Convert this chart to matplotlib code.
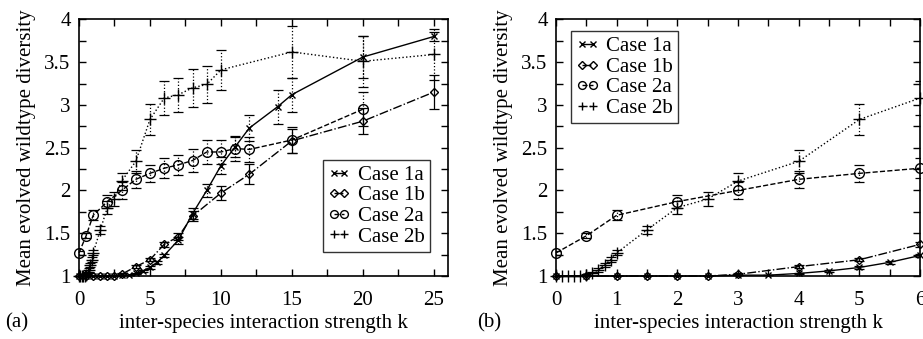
import matplotlib
matplotlib.use('Agg')
import matplotlib.pyplot as plt
from matplotlib.ticker import MultipleLocator

plt.rcParams['font.family'] = ['Liberation Serif', 'DejaVu Serif']
plt.rcParams['font.size'] = 15

# Case 1a: crosses, solid line
k_1a = [0, 0.5, 1, 1.5, 2, 2.5, 3, 3.5, 4, 4.5, 5, 5.5, 6, 7, 8, 9, 10, 11, 12, 14, 15, 20, 25]
v_1a = [1.0, 1.0, 1.0, 1.0, 1.0, 1.0, 1.01, 1.01, 1.03, 1.06, 1.10, 1.16, 1.24, 1.42, 1.73, 2.0,
        2.29, 2.51, 2.73, 2.98, 3.12, 3.56, 3.80]
e_1a = [0, 0, 0, 0, 0, 0, 0, 0, 0.01, 0.01, 0.02, 0.02, 0.02, 0.04, 0.06, 0.08,
        0.1, 0.12, 0.15, 0.2, 0.2, 0.25, 0.05]

# Case 1b: diamonds, dash-dot line
k_1b = [0, 0.5, 1, 1.5, 2, 2.5, 3, 4, 5, 6, 7, 8, 10, 12, 15, 20, 25]
v_1b = [1.0, 1.0, 1.0, 1.0, 1.0, 1.0, 1.02, 1.11, 1.19, 1.37, 1.46, 1.70, 1.97, 2.19, 2.58, 2.81, 3.15]
e_1b = [0, 0, 0, 0, 0, 0, 0.01, 0.02, 0.02, 0.03, 0.04, 0.06, 0.08, 0.12, 0.14, 0.15, 0.2]

# Case 2a: circles, dashed line
k_2a = [0, 0.5, 1, 2, 3, 4, 5, 6, 7, 8, 9, 10, 11, 12, 15, 20]
v_2a = [1.27, 1.47, 1.71, 1.87, 2.0, 2.13, 2.20, 2.26, 2.30, 2.35, 2.45, 2.45, 2.49, 2.48, 2.59, 2.95]
e_2a = [0.02, 0.03, 0.06, 0.08, 0.1, 0.1, 0.1, 0.12, 0.12, 0.13, 0.14, 0.14, 0.15, 0.15, 0.15, 0.2]

# Case 2b: plus signs, dotted line
k_2b = [0, 0.1, 0.2, 0.3, 0.4, 0.5, 0.6, 0.7, 0.8, 0.9, 1, 1.5, 2, 2.5, 3, 4, 5, 6, 7, 8, 9, 10, 15, 20, 25]
v_2b = [1.0, 1.0, 1.0, 1.0, 1.0, 1.01, 1.04, 1.07, 1.13, 1.19, 1.27, 1.54, 1.80, 1.90, 2.11, 2.34,
        2.83, 3.08, 3.12, 3.20, 3.24, 3.41, 3.62, 3.51, 3.59]
e_2b = [0, 0, 0, 0, 0, 0.01, 0.01, 0.02, 0.02, 0.03, 0.03, 0.05, 0.08, 0.08, 0.1, 0.13,
        0.18, 0.2, 0.2, 0.22, 0.22, 0.23, 0.3, 0.3, 0.3]

series = [
    ('Case 1a', k_1a, v_1a, e_1a, dict(marker='x', ls='-', ms=5), ':'),
    ('Case 1b', k_1b, v_1b, e_1b, dict(marker='D', ls='-.', ms=4.5, mfc='none'), '-'),
    ('Case 2a', k_2a, v_2a, e_2a, dict(marker='o', ls='--', ms=7, mfc='none'), ':'),
    ('Case 2b', k_2b, v_2b, e_2b, dict(marker='+', ls=':', ms=8), ':'),
]

fig = plt.figure(figsize=(9.23, 3.39), dpi=100)
ax1 = fig.add_axes([0.0856, 0.1858, 0.3998, 0.757])
ax2 = fig.add_axes([0.6024, 0.1858, 0.3944, 0.757])

for ax, xmax in [(ax1, 26), (ax2, 6)]:
    for label, k, v, e, sty, ebls in series:
        kk = [a for a in k if a <= xmax]
        n = len(kk)
        ax.plot(kk, v[:n], color='black', lw=1.0, mew=1.0, label=label, clip_on=False, zorder=3, **sty)
        eb = ax.errorbar(kk, v[:n], yerr=e[:n], fmt='none', ecolor='black', elinewidth=0.9,
                         capsize=3.5, capthick=0.9, zorder=2)
        eb[2][0].set_linestyle(ebls)
    ax.set_xlim(0, xmax)
    ax.set_ylim(1, 4)
    ax.yaxis.set_minor_locator(MultipleLocator(0.25))
    ax.set_yticks([1, 1.5, 2, 2.5, 3, 3.5, 4])
    ax.set_yticklabels(['1', '1.5', '2', '2.5', '3', '3.5', '4'])
    ax.tick_params(which='both', direction='in', top=True, right=True, length=5, width=1)
    ax.tick_params(axis='y', pad=6)
    ax.tick_params(axis='x', pad=11)
    for s in ax.spines.values():
        s.set_linewidth(1.2)
    ax.set_xlabel('inter-species interaction strength k', labelpad=3)
    ax.set_ylabel('Mean evolved wildtype diversity', labelpad=6)

ax1.xaxis.set_minor_locator(MultipleLocator(2.5))
ax1.set_xticks([0, 5, 10, 15, 20, 25])
ax2.xaxis.set_major_locator(MultipleLocator(1))
ax2.xaxis.set_minor_locator(MultipleLocator(0.5))

leg_kw = dict(numpoints=2, frameon=True, fancybox=False, edgecolor='black', handlelength=1.1,
              handletextpad=0.35, borderpad=0.25, labelspacing=0.05, borderaxespad=0,
              markerscale=0.8, fontsize=15)
l1 = ax1.legend(loc='lower right', bbox_to_anchor=(0.951, 0.094), **leg_kw)
l2 = ax2.legend(loc='upper left', bbox_to_anchor=(0.041, 0.953), **leg_kw)
for l in (l1, l2):
    l.get_frame().set_linewidth(1.0)

fig.text(0.006, 0.035, '(a)', fontsize=15)
fig.text(0.517, 0.035, '(b)', fontsize=15)

fig.savefig('out.png', dpi=100)
